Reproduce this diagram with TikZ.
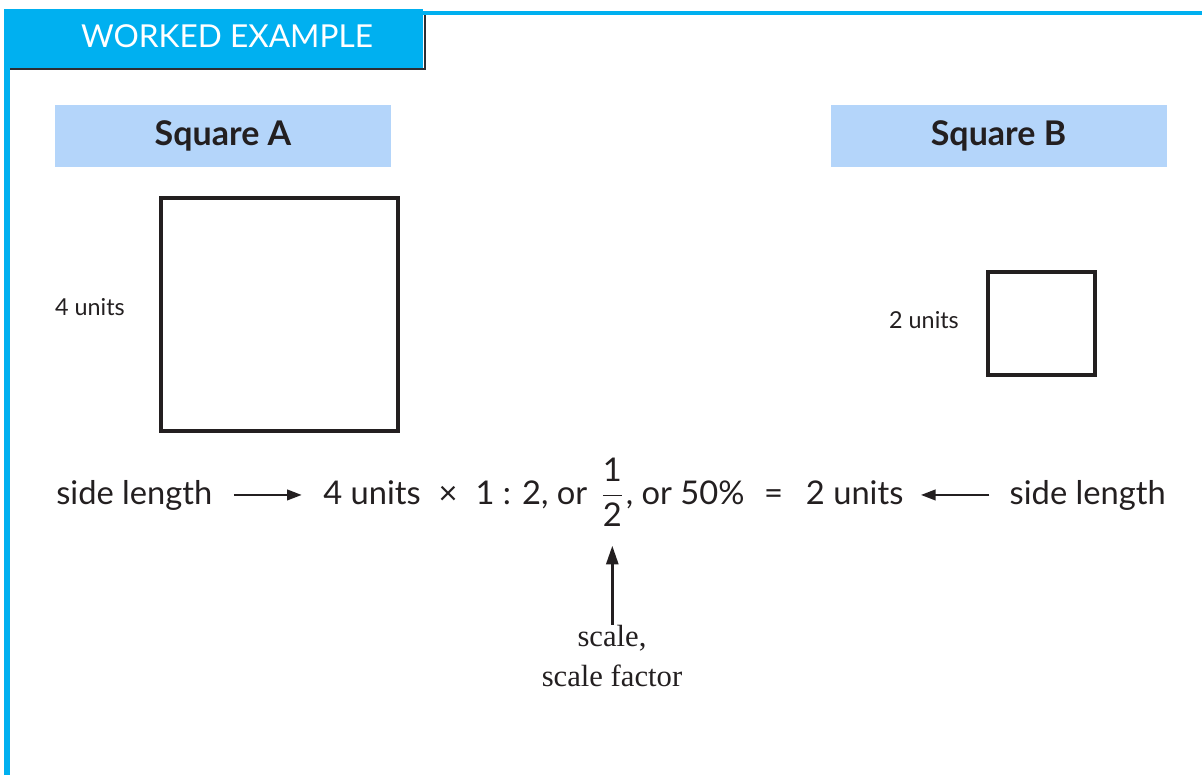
\documentclass[tikz,border=0pt]{standalone}
\usepackage{amsmath}
\usepackage{fontspec}
\setmainfont{Lato}
\newfontfamily\notefont{Liberation Serif}
\usetikzlibrary{arrows.meta,positioning}
\definecolor{framecyan}  {RGB}{0,176,240}
\definecolor{labelblue}  {RGB}{180,213,250}
\definecolor{inkdark}    {RGB}{35,31,32}
\definecolor{shadowgray} {RGB}{45,45,50}

\begin{document}
\begin{tikzpicture}[
  x=0.75pt, y=-0.75pt, color=inkdark,
  tabtext/.style={text=white, font=\fontsize{23.7}{28}\selectfont},
  labelbox/.style={rectangle, fill=labelblue, minimum width=252pt,
    minimum height=46pt, font=\fontsize{25.5}{30}\selectfont\bfseries},
  squarebox/.style={rectangle, draw=inkdark, line width=3pt},
  sidenote/.style={font=\fontsize{17.5}{21}\selectfont},
  eqtext/.style={inner sep=0pt, anchor=base west,
    font=\fontsize{24.5}{29}\selectfont},
  notetext/.style={align=center, inner sep=0pt,
    font=\notefont\fontsize{23}{30}\selectfont},
  arr/.style={-{Triangle[length=11pt,width=8pt]}, line width=1.5pt},
  uparr/.style={-{Triangle[length=14pt,width=9pt]}, line width=2pt},
]
\useasboundingbox (0,0) rectangle (1202,775);

% frame
\fill[framecyan] (4,9) rectangle (423,68);
\draw[shadowgray, line width=1.5pt] (10,69) -- (425,69) -- (425,14);
\draw[framecyan, line width=3pt] (423,12.5) -- (1202,12.5);
\draw[framecyan, line width=4.5pt] (7,68) -- (7,775);
\node[tabtext] (tab) at (227,36) {WORKED EXAMPLE};

% squares
\node[labelbox] (labA) at (223,136) {Square A};
\node[labelbox] (labB) at (998.5,136) {Square B};
\node[squarebox, minimum width=178pt, minimum height=175pt] (sqA) at (279.5,314.5) {};
\node[squarebox, minimum width=80pt, minimum height=77pt] (sqB) at (1041.5,323.5) {};
\node[sidenote] (unitsA) at (90,307) {4 units};
\node[sidenote] (unitsB) at (924,320) {2 units};

% equation
\node[eqtext] (sideL) at (56,504) {side length};
\node[eqtext] (eqL) at (323,504) {4 units\hspace{0.55em}×\hspace{0.55em}1 : 2, or};
\node[eqtext] (half) at ([xshift=10pt]eqL.base east) {$\dfrac{\text{1}}{\text{2}}$};
\node[eqtext] (eqR) at ([xshift=1.5pt]half.base east) {, or 50\%\hspace{0.6em}=\hspace{0.7em}2 units};
\node[eqtext, anchor=base east] (sideR) at (1166,504) {side length};
\node[notetext] (scale) at (612,656) {scale,\\scale factor};

% arrows
\draw[arr, shorten <=16pt, shorten >=16pt] (sideL.east) -- (sideL.east -| eqL.west);
\draw[arr, shorten <=15pt, shorten >=13pt] (sideR.west) -- (sideR.west -| eqR.east);
\draw[uparr, shorten >=14pt] (scale.north -| half.south) -- (half.south);

\end{tikzpicture}
\end{document}
